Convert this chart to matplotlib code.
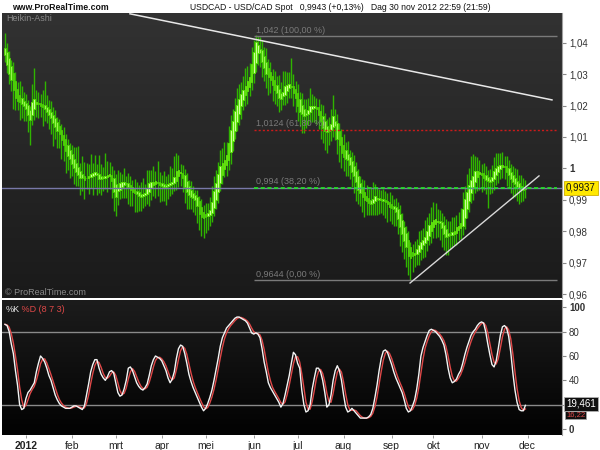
import matplotlib
matplotlib.use('Agg')
import matplotlib.pyplot as plt
from matplotlib.colors import LinearSegmentedColormap
import numpy as np
import pandas as pd

plt.rcParams['font.family'] = ['Liberation Sans', 'DejaVu Sans']

# Daily bars, 19 Dec 2011 .. 30 Nov 2012
dates = pd.bdate_range('2011-12-19', '2012-11-30')

# Heikin-Ashi close
ha_close = [
    1.0360, 1.0330, 1.0300, 1.0280, 1.0250, 1.0225, 1.0215, 1.0210, 1.0205, 1.0200,
    1.0190, 1.0170, 1.0155, 1.0210, 1.0220, 1.0210, 1.0205, 1.0200, 1.0195, 1.0190,
    1.0180, 1.0170, 1.0160, 1.0145, 1.0133, 1.0120, 1.0110, 1.0090, 1.0075, 1.0055,
    1.0040, 1.0030, 1.0015, 1.0000, 0.9990, 0.9980, 0.9970, 0.9968, 0.9963, 0.9968,
    0.9975, 0.9980, 0.9983, 0.9987, 0.9980, 0.9965, 0.9965, 0.9970, 0.9973, 0.9977,
    0.9980, 0.9960, 0.9925, 0.9909, 0.9935, 0.9950, 0.9953, 0.9955, 0.9950, 0.9940,
    0.9930, 0.9925, 0.9920, 0.9917, 0.9913, 0.9910, 0.9915, 0.9920, 0.9935, 0.9950,
    0.9955, 0.9956, 0.9957, 0.9952, 0.9947, 0.9945, 0.9942, 0.9942, 0.9948, 0.9952,
    0.9955, 0.9970, 0.9990, 0.9993, 0.9985, 0.9970, 0.9940, 0.9925, 0.9915, 0.9910,
    0.9905, 0.9900, 0.9880, 0.9855, 0.9845, 0.9843, 0.9845, 0.9855, 0.9865, 0.9890,
    0.9925, 0.9950, 0.9980, 1.0005, 1.0015, 1.0025, 1.0040, 1.0080, 1.0120, 1.0150,
    1.0180, 1.0200, 1.0220, 1.0235, 1.0248, 1.0260, 1.0275, 1.0290, 1.0330, 1.0370,
    1.0400, 1.0390, 1.0368, 1.0340, 1.0318, 1.0300, 1.0290, 1.0280, 1.0265, 1.0250,
    1.0240, 1.0225, 1.0222, 1.0240, 1.0260, 1.0263, 1.0266, 1.0258, 1.0240, 1.0225,
    1.0200, 1.0180, 1.0172, 1.0166, 1.0170, 1.0185, 1.0196, 1.0198, 1.0196, 1.0190,
    1.0170, 1.0150, 1.0130, 1.0118, 1.0115, 1.0120, 1.0140, 1.0165, 1.0135, 1.0095,
    1.0075, 1.0050, 1.0037, 1.0030, 1.0027, 1.0010, 0.9990, 0.9975, 0.9955, 0.9930,
    0.9920, 0.9910, 0.9900, 0.9895, 0.9890, 0.9885, 0.9900, 0.9910, 0.9905, 0.9900,
    0.9898, 0.9895, 0.9893, 0.9885, 0.9878, 0.9873, 0.9870, 0.9860, 0.9840, 0.9813,
    0.9790, 0.9770, 0.9750, 0.9722, 0.9715, 0.9720, 0.9730, 0.9740, 0.9755, 0.9765,
    0.9770, 0.9780, 0.9800, 0.9818, 0.9828, 0.9833, 0.9836, 0.9832, 0.9826, 0.9810,
    0.9790, 0.9780, 0.9784, 0.9788, 0.9795, 0.9800, 0.9810, 0.9815, 0.9825, 0.9870,
    0.9900, 0.9922, 0.9945, 0.9960, 0.9975, 0.9989, 0.9990, 0.9987, 0.9980, 0.9970,
    0.9962, 0.9960, 0.9957, 0.9970, 0.9990, 1.0000, 1.0005, 1.0010, 1.0008, 1.0005,
    0.9990, 0.9978, 0.9965, 0.9957, 0.9950, 0.9942, 0.9936, 0.9933, 0.9931, 0.9937,
]

# wick length above / below the body, in pips
hi_pips = [
    50, 30, 25, 20, 35, 30, 25, 45, 40, 30,
    30, 20, 15, 60, 100, 40, 35, 30, 45, 80,
    40, 30, 35, 25, 30, 20, 25, 20, 25, 20,
    20, 25, 30, 40, 55, 70, 25, 60, 45, 50,
    40, 65, 35, 55, 30, 60, 40, 35, 75, 45,
    40, 30, 25, 35, 60, 40, 30, 45, 25, 35,
    30, 25, 35, 30, 25, 40, 55, 30, 60, 45,
    40, 50, 35, 70, 35, 30, 45, 30, 35, 55,
    45, 70, 60, 50, 30, 25, 20, 25, 20, 30,
    25, 20, 25, 20, 30, 25, 40, 35, 45, 55,
    50, 45, 40, 55, 50, 60, 45, 55, 50, 40,
    45, 55, 50, 40, 45, 60, 50, 45, 55, 40,
    25, 30, 40, 35, 30, 45, 30, 35, 25, 30,
    30, 45, 35, 70, 50, 45, 40, 90, 40, 30,
    30, 25, 40, 35, 45, 40, 60, 40, 35, 30,
    30, 25, 35, 30, 25, 40, 50, 70, 40, 30,
    25, 30, 35, 30, 45, 25, 30, 35, 30, 25,
    25, 30, 40, 35, 30, 45, 55, 40, 35, 30,
    30, 35, 30, 25, 35, 30, 25, 30, 25, 30,
    25, 20, 25, 30, 20, 30, 40, 35, 45, 40,
    40, 55, 45, 40, 50, 60, 55, 40, 35, 30,
    30, 35, 40, 45, 50, 45, 40, 45, 50, 55,
    45, 60, 55, 80, 70, 50, 45, 40, 30, 35,
    30, 25, 35, 40, 45, 50, 45, 40, 45, 35,
    35, 30, 25, 30, 35, 40, 30, 35, 30, 25,
]
lo_pips = [
    20, 25, 30, 35, 60, 40, 30, 55, 45, 50,
    40, 55, 80, 30, 35, 40, 45, 35, 60, 40,
    35, 45, 50, 75, 40, 55, 45, 60, 50, 70,
    45, 60, 40, 50, 45, 35, 55, 40, 60, 35,
    50, 35, 60, 40, 65, 45, 50, 40, 35, 45,
    40, 55, 60, 60, 45, 30, 35, 40, 45, 55,
    50, 45, 60, 55, 50, 45, 40, 35, 30, 45,
    40, 35, 45, 40, 55, 50, 45, 60, 40, 35,
    30, 25, 30, 35, 40, 45, 50, 55, 45, 40,
    45, 50, 55, 50, 60, 65, 50, 45, 35, 30,
    25, 30, 35, 25, 30, 25, 35, 30, 40, 30,
    25, 30, 35, 40, 30, 35, 40, 30, 25, 30,
    30, 40, 45, 50, 40, 45, 55, 40, 50, 45,
    40, 45, 35, 30, 35, 40, 30, 35, 40, 45,
    50, 45, 60, 55, 40, 35, 30, 40, 45, 50,
    45, 55, 50, 60, 65, 45, 35, 30, 45, 50,
    55, 50, 45, 55, 50, 45, 50, 55, 60, 45,
    40, 50, 55, 45, 40, 35, 40, 45, 50, 45,
    40, 45, 50, 55, 45, 50, 55, 45, 50, 60,
    55, 60, 65, 60, 70, 50, 40, 35, 40, 35,
    40, 45, 35, 30, 40, 35, 45, 50, 55, 60,
    50, 55, 60, 45, 40, 35, 40, 30, 35, 30,
    35, 30, 35, 30, 40, 35, 45, 50, 55, 40,
    45, 85, 40, 40, 35, 30, 35, 30, 35, 40,
    45, 40, 45, 50, 40, 45, 50, 40, 35, 30,
]

# stochastic %K (8 7 3)
stoch_k = [
    86, 85, 80, 70, 62, 48, 36, 20, 16, 17,
    25, 30, 32, 35, 38, 47, 54, 60, 58, 55,
    50, 44, 40, 34, 28, 24, 21, 19, 18, 17,
    17, 17, 18, 19, 19, 18, 17, 16, 19, 28,
    37, 47, 53, 57, 57, 50, 45, 42, 40, 43,
    47, 48, 46, 38, 30, 27, 28, 33, 40, 50,
    51, 48, 43, 38, 35, 33, 32, 34, 37, 44,
    52, 57, 60, 59, 58, 56, 52, 48, 42, 38,
    41, 47, 58, 66, 69, 68, 62, 54, 45, 39,
    34, 30, 26, 22, 18, 15, 17, 21, 26, 32,
    40, 49, 58, 68, 75, 79, 83, 85, 87, 89,
    91, 92, 92, 91, 90, 89, 87, 83, 79, 78,
    79, 78, 75, 66, 55, 47, 38, 34, 31, 28,
    25, 22, 18, 21, 28, 36, 44, 54, 63, 61,
    54, 50, 32, 20, 14, 15, 20, 33, 42, 50,
    50, 47, 40, 30, 18, 20, 28, 40, 48, 52,
    48, 40, 28, 18, 14, 15, 17, 15, 13, 11,
    9, 9, 9, 9, 10, 12, 17, 26, 36, 48,
    58, 64, 65, 63, 58, 53, 47, 42, 38, 34,
    30, 24, 17, 14, 15, 19, 24, 33, 45, 60,
    67, 72, 77, 81, 82, 81, 80, 78, 76, 73,
    69, 61, 50, 42, 38, 39, 41, 45, 48, 54,
    61, 67, 72, 77, 80, 82, 85, 87, 88, 87,
    80, 70, 61, 53, 51, 56, 66, 77, 84, 85,
    83, 76, 63, 46, 32, 22, 16, 15, 15, 19.461,
]

month_labels = ['2012', 'feb', 'mrt', 'apr', 'mei', 'jun', 'jul', 'aug', 'sep', 'okt', 'nov', 'dec']
price_ticks = [0.96, 0.97, 0.98, 0.99, 1.00, 1.01, 1.02, 1.03, 1.04]
stoch_ticks = [0, 20, 40, 60, 80, 100]

fib_high = 1.042
fib_low = 0.9644
fib_levels = [(1.0, '1,042 (100,00 %)'), (0.618, '1,0124 (61,80 %)'),
              (0.382, '0,994 (38,20 %)'), (0.0, '0,9644 (0,00 %)')]
last_ha = 0.9937
last_d = '16,22'

# trendlines (bar index, price)
down_line = ([59.8, 261.7], [1.0492, 1.0218])
up_line = ([193.8, 255.5], [0.9635, 0.9976])

n = len(dates)
assert len(ha_close) == n and len(hi_pips) == n and len(lo_pips) == n and len(stoch_k) == n

close = np.array(ha_close)
ha_open = np.empty(n)
ha_open[0] = close[0] + 0.002
for i in range(1, n):
    ha_open[i] = (ha_open[i - 1] + close[i - 1]) / 2
body_lo = np.minimum(ha_open, close)
body_hi = np.maximum(ha_open, close)
highs = body_hi + np.array(hi_pips) * 1e-4
lows = body_lo - np.array(lo_pips) * 1e-4
x = np.arange(n)

k = pd.Series(stoch_k)
d = k.rolling(3, min_periods=1).mean()

# month tick positions (first trading day of each month in 2012)
all_days = pd.bdate_range('2011-12-19', '2012-12-31')
month_pos = [i for i in range(1, len(all_days)) if all_days[i].month != all_days[i - 1].month]

fig = plt.figure(figsize=(6, 4.5), dpi=100, facecolor='white')
W, H = 600, 450


def px_axes(x0, y0, x1, y1):
    return fig.add_axes([x0 / W, 1 - y1 / H, (x1 - x0) / W, (y1 - y0) / H])


ax1 = px_axes(2, 13, 562, 298)
ax2 = px_axes(2, 300, 562, 435)
xlim = ((2 - 5) / 2.09, (562 - 5) / 2.09)


def gradient(ax, top, bottom):
    cmap = LinearSegmentedColormap.from_list('bg', [top, bottom])
    ax.imshow(np.linspace(0, 1, 256).reshape(-1, 1), extent=[0, 1, 0, 1],
              transform=ax.transAxes, cmap=cmap, aspect='auto', zorder=0)


gradient(ax1, '#323232', '#1a1a1a')
gradient(ax2, '#1c1c1c', '#020202')

# --- price panel ---
up = close >= ha_open
ax1.vlines(x, lows, highs, color='#2fb400', lw=1.0, zorder=2)
ax1.bar(x[up], (body_hi - body_lo)[up] + 0.0002, bottom=body_lo[up], width=0.8,
        color='#c8ff9a', edgecolor='#5ae600', lw=0.6, zorder=3)
ax1.bar(x[~up], (body_hi - body_lo)[~up] + 0.0002, bottom=body_lo[~up], width=0.8,
        color='#96f550', edgecolor='#48d000', lw=0.6, zorder=3)

ax1.axhline(last_ha, color='#7878a8', lw=1, zorder=4)

fib_start, fib_end = 119, 264
for frac, label in fib_levels:
    lvl = fib_low + frac * (fib_high - fib_low)
    if frac == 0.618:
        ax1.hlines(lvl, fib_start, fib_end, color='#cc1a1a', lw=1, linestyles=(0, (1.5, 1.5)), zorder=4)
    elif frac == 0.382:
        ax1.hlines(lvl - 0.0003, fib_start, fib_end, color='#22e622', lw=1.2,
                   linestyles=(0, (2.5, 1.5)), zorder=5)
    else:
        ax1.hlines(lvl, fib_start, fib_end, color='#7a7a7a', lw=1, zorder=4)
    ax1.text(fib_start + 1, lvl + 0.0004, label, color='#7a7a7a', fontsize=6.5,
             va='bottom', ha='left', zorder=4)

ax1.plot(*down_line, color='#e8e8e8', lw=1.1, zorder=6)
ax1.plot(*up_line, color='#d8d8d8', lw=1.0, zorder=6)

ax1.set_xlim(xlim)
ax1.set_ylim(0.95873, 1.04946)
ax1.yaxis.tick_right()
ax1.set_yticks(price_ticks)
ax1.set_yticklabels(['1' if abs(t - 1) < 1e-9 else f'{t:.2f}'.replace('.', ',') for t in price_ticks])
for lab, t in zip(ax1.get_yticklabels(), price_ticks):
    if abs(t - 1) < 1e-9:
        lab.set_fontweight('bold')
ax1.tick_params(axis='y', direction='out', length=3, width=0.8, colors='#888888',
                labelcolor='#333333', labelsize=7, pad=2)
ax1.set_xticks([])
ax1.text(0.008, 0.995, 'Heikin-Ashi', transform=ax1.transAxes, color='#888888',
         fontsize=6.5, va='top', ha='left')
ax1.text(0.005, 0.005, '© ProRealTime.com', transform=ax1.transAxes, color='#8a8a8a',
         fontsize=6.5, va='bottom', ha='left')

# --- stochastic panel ---
ax2.axhline(80, color='#8a8a8a', lw=1, zorder=2)
ax2.axhline(20, color='#8a8a8a', lw=1, zorder=2)
ax2.plot(x, d, color='#e04848', lw=1.0, zorder=3)
ax2.plot(x, k, color='#f4f4f4', lw=1.0, zorder=4)
ax2.set_xlim(xlim)
ax2.set_ylim(-4.9, 106)
ax2.yaxis.tick_right()
ax2.set_yticks(stoch_ticks)
# the "20" label sits under the current-value box, as in the original
ax2.set_yticklabels(['' if t == 20 else str(t) for t in stoch_ticks])
for lab, t in zip(ax2.get_yticklabels(), stoch_ticks):
    if t in (0, 100):
        lab.set_fontweight('bold')
ax2.tick_params(axis='y', direction='out', length=3, width=0.8, colors='#888888',
                labelcolor='#333333', labelsize=7, pad=2)
ax2.set_xticks(month_pos)
ax2.set_xticklabels(month_labels)
ax2.get_xticklabels()[0].set_fontweight('bold')
ax2.tick_params(axis='x', direction='out', length=2, width=0.6, colors='#888888',
                labelcolor='#222222', labelsize=7.5, pad=2)
t1 = ax2.text(0.006, 0.965, '%K', transform=ax2.transAxes, color='#e8e8e8',
              fontsize=6.5, va='top', ha='left')
ax2.annotate(' %D (8 7 3)', xy=(1, 0), xycoords=t1, color='#e04848',
             fontsize=6.5, va='bottom', ha='left')

for ax in (ax1, ax2):
    for side in ('top', 'left', 'bottom'):
        ax.spines[side].set_visible(False)
    ax.spines['right'].set_color('#a0a0a0')

# value boxes on the right axes
fig.text(566 / W, 1 - 188 / H, f'{last_ha:.4f}'.replace('.', ','), fontsize=7, color='#111111',
         va='center', ha='left',
         bbox=dict(boxstyle='square,pad=0.2', facecolor='#ffe800', edgecolor='#d0b000', lw=0.6))
fig.text(566 / W, 1 - 415 / H, last_d, fontsize=5.5, color='#e04848', va='center', ha='left',
         bbox=dict(boxstyle='square,pad=0.1', facecolor='#101010', edgecolor='#a0a0a0', lw=0.6))
fig.text(566 / W, 1 - 404 / H, f'{stoch_k[-1]:.3f}'.replace('.', ','), fontsize=7,
         color='white', va='center', ha='left',
         bbox=dict(boxstyle='square,pad=0.2', facecolor='#101010', edgecolor='#b0b0b0', lw=0.6))

# header
fig.text(12 / W, 1 - 7 / H, 'www.ProRealTime.com', fontsize=6.3, fontweight='bold',
         color='#111111', va='center', ha='left')
fig.text(190 / W, 1 - 7 / H,
         'USDCAD - USD/CAD Spot   0,9943 (+0,13%)   Dag 30 nov 2012 22:59 (21:59)',
         fontsize=6.2, color='#111111', va='center', ha='left')

fig.savefig('out.png', dpi=100, facecolor='white')
